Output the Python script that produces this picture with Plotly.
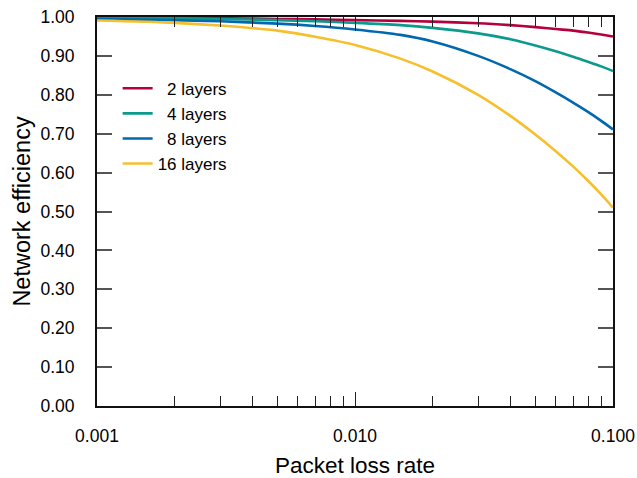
import plotly.graph_objects as go

# Packet loss rate samples
loss_rate = [0.001, 0.002, 0.003, 0.005, 0.007, 0.01, 0.015, 0.02, 0.03,
             0.04, 0.05, 0.06, 0.07, 0.08, 0.09, 0.1]

eff_2 = [0.999, 0.998, 0.997, 0.995, 0.994, 0.992, 0.990, 0.988, 0.984,
         0.979, 0.974, 0.969, 0.965, 0.960, 0.955, 0.950]
eff_4 = [0.998, 0.997, 0.995, 0.992, 0.989, 0.985, 0.979, 0.972, 0.958,
         0.943, 0.927, 0.912, 0.898, 0.885, 0.873, 0.861]
eff_8 = [0.995, 0.992, 0.989, 0.983, 0.977, 0.968, 0.954, 0.937, 0.900,
         0.866, 0.835, 0.806, 0.780, 0.756, 0.733, 0.711]
eff_16 = [0.991, 0.985, 0.978, 0.965, 0.949, 0.928, 0.893, 0.860, 0.800,
          0.746, 0.698, 0.655, 0.616, 0.579, 0.544, 0.510]

series_names = ["\u00a0\u00a02 layers", "\u00a0\u00a04 layers", "\u00a0\u00a08 layers", "16 layers"]
series_values = [eff_2, eff_4, eff_8, eff_16]
series_colors = ["#B4003E", "#0B9A8B", "#0068AE", "#F6BF2C"]

x_tick_vals = [0.001, 0.01, 0.1]
x_tick_text = ["0.001", "0.010", "0.100"]
y_tick_vals = [0.0, 0.1, 0.2, 0.3, 0.4, 0.5, 0.6, 0.7, 0.8, 0.9, 1.0]
y_tick_text = ["0.00", "0.10", "0.20", "0.30", "0.40", "0.50", "0.60", "0.70", "0.80", "0.90", "1.00"]

FONT = "Liberation Sans, Arial, sans-serif"

fig = go.Figure()
for name, vals, col in zip(series_names, series_values, series_colors):
    fig.add_trace(go.Scatter(
        x=loss_rate, y=vals, name=name, mode="lines",
        line=dict(color=col, width=2.6, shape="spline", smoothing=0.8),
    ))

fig.update_layout(
    width=637, height=478,
    margin=dict(l=97, r=24, t=17, b=72),
    paper_bgcolor="white", plot_bgcolor="white",
    font=dict(family=FONT, size=17.5, color="black"),
    showlegend=True,
    legend=dict(
        x=0.04, y=0.862, xanchor="left", yanchor="top",
        bgcolor="rgba(0,0,0,0)", borderwidth=0,
        font=dict(family=FONT, size=17, color="black"),
        tracegroupgap=0, itemwidth=30,
    ),
)

fig.update_xaxes(
    type="log", range=[-3, -1], automargin=False,
    tickmode="array", tickvals=x_tick_vals, ticktext=x_tick_text,
    ticks="inside", ticklen=14, tickwidth=1.2, tickcolor="#222",
    showline=True, linecolor="#111", linewidth=2, mirror="ticks",
    showgrid=False, zeroline=False,
    minor=dict(ticks="inside", ticklen=10, tickwidth=1.2, tickcolor="#222",
               dtick="D1", showgrid=False),
    tickfont=dict(family=FONT, size=17.5, color="black"),
    ticklabelstandoff=13, ticklabeloverflow="allow",
    title=dict(text="Packet loss rate", font=dict(family=FONT, size=22.5, color="black"), standoff=12),
)

fig.update_yaxes(
    range=[0, 1], automargin=False,
    tickmode="array", tickvals=y_tick_vals, ticktext=y_tick_text,
    ticks="inside", ticklen=15, tickwidth=1.5, tickcolor="#555",
    showline=True, linecolor="#111", linewidth=2, mirror="ticks",
    showgrid=False, zeroline=False,
    tickfont=dict(family=FONT, size=17.5, color="black"),
    ticklabelstandoff=17, ticklabeloverflow="allow",
    title=dict(text="Network efficiency", font=dict(family=FONT, size=23.5, color="black"), standoff=3),
)

# remove the browser's default 8px body margin so the figure fills the window
fig.write_html(
    "out.html",
    config={"displayModeBar": False},
    post_script="document.body.style.margin='0';document.body.style.overflow='hidden';",
)
